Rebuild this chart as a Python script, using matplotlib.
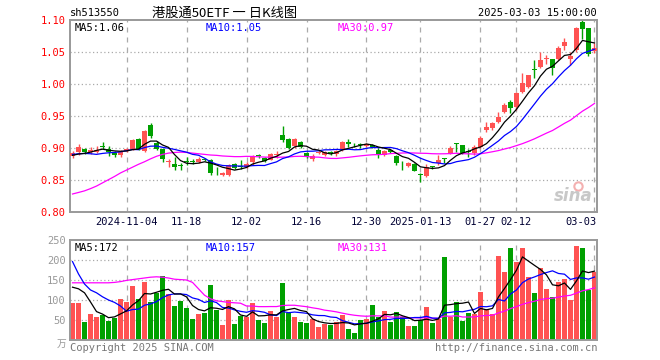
import matplotlib
matplotlib.use('Agg')
import matplotlib.pyplot as plt
import numpy as np
import pandas as pd

# ---------------- data ----------------
holidays = ['2025-01-01', '2025-01-28', '2025-01-29', '2025-01-30', '2025-01-31',
            '2025-02-03', '2025-02-04']
dates = [d.strftime('%Y-%m-%d') for d in pd.bdate_range('2024-10-22', '2025-03-03')
         if d.strftime('%Y-%m-%d') not in holidays]

open_ = [0.888, 0.8945, 0.8994, 0.8945, 0.894, 0.9035, 0.8984, 0.8922, 0.890, 0.8958,
         0.8994, 0.914, 0.8958, 0.937, 0.908, 0.899, 0.879, 0.876, 0.8727, 0.879,
         0.8795, 0.8786, 0.8822, 0.8813, 0.8645, 0.8578, 0.8577, 0.8752, 0.871, 0.8708,
         0.8786, 0.8884, 0.8853, 0.882, 0.8903, 0.9212, 0.914, 0.9031, 0.910, 0.893,
         0.8826, 0.892, 0.890, 0.8935, 0.8906, 0.8973, 0.9103, 0.9066, 0.9053, 0.9036,
         0.905, 0.8973, 0.8895, 0.8973, 0.888, 0.877, 0.8723, 0.8755, 0.8598, 0.8567,
         0.8717, 0.8766, 0.8838, 0.8915, 0.9068, 0.905, 0.8945, 0.892, 0.9026, 0.928,
         0.9313, 0.9406, 0.9573, 0.9719, 0.965, 0.9875, 0.9964, 1.0237, 1.0276, 1.0394,
         1.0396, 1.0396, 1.0604, 1.0396, 1.0536, 1.0979, 1.0875, 1.0526]
high = [0.896, 0.906, 0.900, 0.902, 0.904, 0.910, 0.9031, 0.8953, 0.8973, 0.900,
        0.914, 0.9165, 0.928, 0.940, 0.911, 0.900, 0.8836, 0.8864, 0.8766, 0.8864,
        0.8838, 0.886, 0.8845, 0.8838, 0.8708, 0.8628, 0.875, 0.877, 0.8822, 0.878,
        0.8891, 0.8906, 0.8866, 0.893, 0.8953, 0.935, 0.9155, 0.9166, 0.911, 0.8945,
        0.8916, 0.8973, 0.8953, 0.8958, 0.8975, 0.911, 0.9138, 0.9078, 0.9078, 0.9088,
        0.906, 0.900, 0.898, 0.898, 0.8895, 0.8807, 0.8791, 0.8775, 0.8609, 0.8755,
        0.873, 0.8895, 0.8843, 0.9036, 0.9078, 0.9055, 0.8995, 0.905, 0.9185, 0.9406,
        0.9416, 0.9573, 0.9703, 0.9755, 0.9885, 1.0172, 1.0146, 1.038, 1.050, 1.0459,
        1.0396, 1.0604, 1.073, 1.051, 1.090, 1.102, 1.0875, 1.0646]
low = [0.885, 0.889, 0.8915, 0.891, 0.893, 0.899, 0.8878, 0.8864, 0.8864, 0.894,
       0.898, 0.8975, 0.8935, 0.916, 0.897, 0.8786, 0.8706, 0.866, 0.866, 0.8744,
       0.8755, 0.877, 0.8795, 0.8578, 0.8578, 0.8567, 0.8567, 0.8672, 0.8681, 0.869,
       0.8746, 0.8844, 0.878, 0.881, 0.8844, 0.910, 0.8995, 0.9005, 0.900, 0.8845,
       0.8805, 0.8905, 0.888, 0.889, 0.8885, 0.8963, 0.9027, 0.9027, 0.900, 0.9015,
       0.901, 0.8843, 0.888, 0.893, 0.8745, 0.8661, 0.8707, 0.8645, 0.848, 0.855,
       0.8672, 0.8739, 0.8776, 0.8906, 0.8947, 0.891, 0.8865, 0.889, 0.900, 0.926,
       0.9286, 0.939, 0.9547, 0.9547, 0.9599, 0.986, 0.9938, 1.0094, 1.025, 1.0313,
       1.0146, 1.038, 1.0536, 1.0302, 1.050, 1.070, 1.045, 1.0495]
close = [0.893, 0.9025, 0.8942, 0.897, 0.897, 0.9025, 0.8942, 0.889, 0.8942, 0.899,
         0.913, 0.8984, 0.927, 0.919, 0.899, 0.8826, 0.8797, 0.8708, 0.872, 0.8783,
         0.879, 0.8838, 0.8815, 0.8619, 0.8638, 0.861, 0.8734, 0.8694, 0.8705, 0.876,
         0.8875, 0.8878, 0.8797, 0.8916, 0.8908, 0.9125, 0.9005, 0.915, 0.902, 0.8864,
         0.8885, 0.8945, 0.894, 0.893, 0.8962, 0.910, 0.9063, 0.9061, 0.9048, 0.9063,
         0.9024, 0.8906, 0.8963, 0.8942, 0.8775, 0.8763, 0.8775, 0.865, 0.859, 0.8703,
         0.8711, 0.8817, 0.8828, 0.9008, 0.9062, 0.892, 0.894, 0.9026, 0.9156, 0.9325,
         0.939, 0.9495, 0.9677, 0.9625, 0.986, 1.0026, 1.0146, 1.0231, 1.038, 1.0398,
         1.025, 1.0573, 1.0656, 1.0448, 1.0885, 1.0865, 1.0469, 1.0563]
volume = [93, 93, 46, 65, 58, 62, 48, 56, 102, 96,
          136, 102, 145, 96, 118, 160, 115, 85, 98, 81,
          52, 65, 68, 137, 75, 37, 100, 40, 61, 58,
          92, 50, 43, 72, 57, 142, 67, 57, 46, 43,
          52, 33, 41, 37, 45, 62, 27.5, 17.5, 50, 52.5,
          87.5, 57.5, 72.5, 45, 70, 57.5, 35, 35, 50, 82.5,
          42.5, 52.5, 207.5, 57.5, 95, 47.5, 67, 65, 120, 77.5,
          65, 211, 170, 231, 196, 231, 157.5, 117.5, 180, 127.5,
          107.5, 145, 152.5, 100, 234, 231, 125, 171]

# moving-average values at the start of the window
ma5_lead = [0.889, 0.891, 0.892, 0.894]
ma10_lead = [0.8905, 0.8915, 0.892, 0.8915, 0.8905, 0.892, 0.893, 0.8935, 0.8945]
ma30_lead = [0.8286, 0.831, 0.8335, 0.837, 0.841, 0.846, 0.851, 0.856, 0.8615, 0.866,
             0.8705, 0.875, 0.879, 0.8835, 0.8875, 0.8905, 0.8925, 0.8935, 0.894, 0.8935,
             0.8925, 0.8915, 0.8905, 0.8895, 0.889, 0.888, 0.8875, 0.887, 0.887]
vma5_lead = [132, 128, 118, 95]
vma10_lead = [196, 165, 140, 125, 118, 108, 100, 94, 85]
vma30_lead = [143, 143, 143, 143, 143, 143, 143, 144, 146, 149,
              151, 153, 155, 157, 158, 157, 155, 152, 151, 150,
              144, 128, 112, 103, 98, 96, 94, 93, 92]

tick_dates = ['2024-11-04', '2024-11-18', '2024-12-02', '2024-12-16', '2024-12-30',
              '2025-01-13', '2025-01-27', '2025-02-12', '2025-03-03']
tick_labels = ['2024-11-04', '11-18', '12-02', '12-16', '12-30',
               '2025-01-13', '01-27', '02-12', '03-03']
price_ticks = [0.80, 0.85, 0.90, 0.95, 1.00, 1.05, 1.10]
vol_ticks = [50, 100, 150, 200, 250]

# ---------------- helpers ----------------
def moving(values, w, lead):
    v = np.asarray(values, float)
    out = np.array([v[max(0, i - w + 1):i + 1].mean() for i in range(len(v))])
    out[:len(lead)] = lead
    return out

RED = '#FF5252'
GREEN = '#00A000'
GRID = '#AAAAAA'
FRAME = '#999999'

plt.rcParams['font.family'] = ['DejaVu Sans Mono', 'Noto Sans CJK SC']

W, H = 660, 360
fig = plt.figure(figsize=(W / 100, H / 100), dpi=100)


def rect(l, t, r, b):
    return [l / W, 1 - b / H, (r - l) / W, (b - t) / H]


ax1 = fig.add_axes(rect(70, 20.3, 597, 212.3))
ax2 = fig.add_axes(rect(70, 240, 597, 340))

n = len(close)
x = np.arange(n)
o = np.array(open_); c = np.array(close); h = np.array(high); lo = np.array(low)
cols = [RED if c[i] >= o[i] else GREEN for i in range(n)]
tick_idx = [dates.index(d) for d in tick_dates]

xlim = (-0.42, n - 0.58)
for ax in (ax1, ax2):
    ax.set_xlim(*xlim)
    for s in ax.spines.values():
        s.set_color(FRAME)
        s.set_linewidth(1.4)
    ax.set_xticks([])
    ax.tick_params(axis='y', length=0)
    for t in tick_idx:
        ax.axvline(t, color=GRID, lw=0.9, ls=(0, (4, 4)), zorder=0)

# price panel
ax1.set_ylim(0.80, 1.10)
for p in price_ticks[1:-1]:
    ax1.axhline(p, color=GRID, lw=0.9, ls=(0, (1, 2)), zorder=0)
ax1.vlines(x, lo, h, colors=cols, lw=1.0, zorder=2)
body_b = np.minimum(o, c)
body_h = np.maximum(np.abs(c - o), 0.0014)
ax1.bar(x, body_h, bottom=body_b, width=0.82, color=cols, linewidth=0, zorder=3)

ma5 = moving(close, 5, ma5_lead)
ma10 = moving(close, 10, ma10_lead)
ma30 = moving(close, 30, ma30_lead)
ax1.plot(x, ma30, color='#FF00FF', lw=0.9, zorder=4)
ax1.plot(x, ma10, color='#0000FF', lw=0.9, zorder=4)
ax1.plot(x, ma5, color='black', lw=0.9, zorder=4)

ax1.set_yticks(price_ticks)
ax1.set_yticklabels([f'{p:.2f}' for p in price_ticks], fontsize=7.5, color='red')
ax1.tick_params(axis='y', pad=3)

ax1.text(0.008, 0.985, f'MA5:{ma5[-1]:.2f}', transform=ax1.transAxes, fontsize=7.5,
         color='black', va='top', ha='left')
ax1.text(0.258, 0.985, f'MA10:{ma10[-1]:.2f}', transform=ax1.transAxes, fontsize=7.5,
         color='#0000FF', va='top', ha='left')
ax1.text(0.508, 0.985, f'MA30:{ma30[-1]:.2f}', transform=ax1.transAxes, fontsize=7.5,
         color='#FF00FF', va='top', ha='left')

# date labels under price panel
for t, lab in zip(tick_idx, tick_labels):
    xx = t
    if lab == '03-03':
        ha = 'right'; xx = t + 0.3
    else:
        ha = 'center'
    ax1.text(xx, -0.025, lab, transform=ax1.get_xaxis_transform(), fontsize=7.5,
             color='#000033', ha=ha, va='top')

# sina watermark
ax1.text(0.955, 0.04, 'sina', transform=ax1.transAxes, fontsize=12, color='#C8C8C8',
         fontweight='bold', fontstyle='italic', ha='center', va='bottom',
         family='DejaVu Sans')
ax1.plot([0.963], [0.135], transform=ax1.transAxes, marker='o', ms=6, mfc='none',
         mec='#F4B0B0', mew=1.5)

# volume panel
ax2.set_ylim(0, 250)
for v in vol_ticks[:-1]:
    ax2.axhline(v, color=GRID, lw=0.9, ls=(0, (1, 2)), zorder=0)
ax2.bar(x, volume, width=0.85, color=cols, linewidth=0, zorder=2)
vma5 = moving(volume, 5, vma5_lead)
vma10 = moving(volume, 10, vma10_lead)
vma30 = moving(volume, 30, vma30_lead)
ax2.plot(x, vma30, color='#FF00FF', lw=0.9, zorder=4)
ax2.plot(x, vma10, color='#0000FF', lw=0.9, zorder=4)
ax2.plot(x, vma5, color='black', lw=0.9, zorder=4)
ax2.set_yticks(vol_ticks)
ax2.set_yticklabels([str(v) for v in vol_ticks], fontsize=7.5, color='#999999')
ax2.tick_params(axis='y', pad=3)
ax2.text(0.008, 0.97, f'MA5:{vma5[-1]:.0f}', transform=ax2.transAxes, fontsize=7.5,
         color='black', va='top', ha='left')
ax2.text(0.258, 0.97, f'MA10:{vma10[-1]:.0f}', transform=ax2.transAxes, fontsize=7.5,
         color='#0000FF', va='top', ha='left')
ax2.text(0.508, 0.97, f'MA30:{vma30[-1]:.0f}', transform=ax2.transAxes, fontsize=7.5,
         color='#FF00FF', va='top', ha='left')

# header / footer texts
fig.text(70 / W, 1 - 13 / H, 'sh513550', fontsize=7.5, color='black', va='center', ha='left')
fig.text(225 / W, 1 - 13 / H, '港股通50ETF 一 日K线图', fontsize=9.5, color='black',
         va='center', ha='center', family=['Noto Sans CJK SC', 'DejaVu Sans Mono'])
fig.text(597 / W, 1 - 13 / H, '2025-03-03 15:00:00', fontsize=7.5, color='black',
         va='center', ha='right')
fig.text(66 / W, 1 - 344 / H, '万', fontsize=7, color='#999999', va='center', ha='right',
         family=['Noto Sans CJK SC'])
fig.text(70 / W, 1 - 348 / H, 'Copyright 2025 SINA.COM', fontsize=7.5, color='#777777',
         va='center', ha='left')
fig.text(597 / W, 1 - 348 / H, 'http://finance.sina.com.cn', fontsize=7.5, color='#777777',
         va='center', ha='right')

fig.savefig('out.png', dpi=100, facecolor='white')
